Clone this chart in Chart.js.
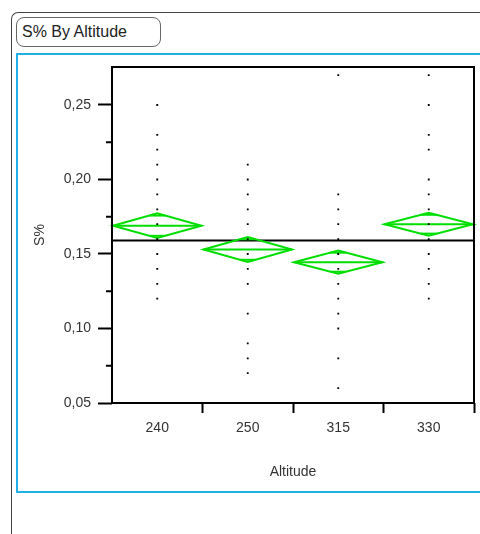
<!DOCTYPE html>
<html>
<head>
<meta charset="utf-8">
<title>S% By Altitude</title>
<script src="https://cdn.jsdelivr.net/npm/chart.js@4.4.1/dist/chart.umd.min.js"></script>
<style>
  html, body { margin: 0; padding: 0; background: #fff; width: 480px; height: 534px; overflow: hidden; }
  #frame { position: absolute; left: 11px; top: 12px; width: 500px; height: 560px;
           border-left: 1px solid #444; border-top: 1px solid #444; border-top-left-radius: 7px; }
  #titleBox { position: absolute; left: 16px; top: 17px; width: 145px; height: 30px; box-sizing: border-box;
              border: 1px solid #666; border-radius: 8px; padding-left: 5px;
              font: 16px "Liberation Sans", Arial, sans-serif; line-height: 28px; color: #222; }
  #panel { position: absolute; left: 16px; top: 53px; width: 480px; height: 440px; box-sizing: border-box;
           border: 2px solid #1eb0e6; }
  canvas { position: absolute; left: 0; top: 0; }
</style>
</head>
<body>
<div id="frame"></div>
<div id="titleBox">S% By Altitude</div>
<div id="panel"></div>
<canvas id="chart" width="480" height="534"></canvas>
<script>
// Altitude groups
const categories = ['240', '250', '315', '330'];

// S% observations per altitude group
const alt240 = [0.25, 0.23, 0.22, 0.21, 0.20, 0.19, 0.18, 0.17, 0.16, 0.15, 0.14, 0.13, 0.12];
const alt250 = [0.21, 0.20, 0.19, 0.18, 0.17, 0.16, 0.15, 0.14, 0.13, 0.11, 0.09, 0.08, 0.07];
const alt315 = [0.27, 0.19, 0.18, 0.17, 0.16, 0.15, 0.14, 0.13, 0.12, 0.11, 0.10, 0.08, 0.06];
const alt330 = [0.27, 0.25, 0.23, 0.22, 0.20, 0.19, 0.18, 0.17, 0.16, 0.15, 0.14, 0.13, 0.12];

// Group means and 95% confidence half-widths (means diamonds)
const groupMeans = [0.169, 0.153, 0.1445, 0.170];
const ciHalfWidths = [0.0083, 0.0084, 0.0078, 0.0077];

// Grand mean across all observations
const grandMean = 0.159;

// Y axis ticks
const yMajorTicks = [0.05, 0.10, 0.15, 0.20, 0.25];
const yMinorTicks = [0.075, 0.125, 0.175, 0.225];

const groups = [alt240, alt250, alt315, alt330];
const points = [];
groups.forEach((vals, i) => vals.forEach(v => points.push({ x: categories[i], y: v })));

const GREEN = 'rgb(0,222,0)';
const FONT = '"Liberation Sans", Arial, sans-serif';
const TEXT = '#333';

const onewayPlugin = {
  id: 'oneway',
  beforeDatasetsDraw(chart) {
    const { ctx, chartArea, scales: { x, y } } = chart;
    const band = (x.getPixelForValue(1) - x.getPixelForValue(0));
    ctx.save();
    // grand mean line
    ctx.strokeStyle = '#000';
    ctx.lineWidth = 2;
    ctx.beginPath();
    const gy = y.getPixelForValue(grandMean);
    ctx.moveTo(chartArea.left, gy);
    ctx.lineTo(chartArea.right, gy);
    ctx.stroke();
    // means diamonds
    ctx.strokeStyle = GREEN;
    ctx.lineWidth = 2;
    groupMeans.forEach((m, i) => {
      const cx = x.getPixelForValue(i);
      const l = cx - band / 2 + 1, r = cx + band / 2 - 1;
      const yc = y.getPixelForValue(m);
      const yt = y.getPixelForValue(m + ciHalfWidths[i]);
      const yb = y.getPixelForValue(m - ciHalfWidths[i]);
      ctx.beginPath();
      ctx.moveTo(l, yc); ctx.lineTo(cx, yt); ctx.lineTo(r, yc); ctx.lineTo(cx, yb); ctx.closePath();
      ctx.stroke();
      ctx.beginPath();
      ctx.moveTo(l, yc); ctx.lineTo(r, yc);
      ctx.stroke();
      // overlap marks
      const k = 0.82;
      [m + ciHalfWidths[i] * k, m - ciHalfWidths[i] * k].forEach(v => {
        const py = y.getPixelForValue(v);
        const hw = (1 - k) * (r - l) / 2;
        ctx.beginPath();
        ctx.moveTo(cx - hw, py); ctx.lineTo(cx + hw, py);
        ctx.stroke();
      });
    });
    ctx.restore();
  },
  afterDraw(chart) {
    const { ctx, chartArea, scales: { y } } = chart;
    ctx.save();
    ctx.strokeStyle = '#000';
    ctx.lineWidth = 2;
    ctx.strokeRect(chartArea.left, chartArea.top, chartArea.right - chartArea.left, chartArea.bottom - chartArea.top);
    // minor ticks on the y axis
    yMinorTicks.forEach(v => {
      const py = y.getPixelForValue(v);
      ctx.beginPath();
      ctx.moveTo(chartArea.left - 6, py);
      ctx.lineTo(chartArea.left, py);
      ctx.stroke();
    });
    ctx.restore();
  }
};

new Chart(document.getElementById('chart'), {
  type: 'scatter',
  data: {
    labels: categories,
    datasets: [{
      data: points,
      pointStyle: 'rect',
      pointRadius: 1.3,
      pointHoverRadius: 1.3,
      backgroundColor: '#000',
      borderColor: '#000',
      borderWidth: 0
    }]
  },
  options: {
    responsive: false,
    animation: false,
    events: [],
    layout: { padding: { left: 0, right: 6, top: 67, bottom: 41 } },
    plugins: { legend: { display: false }, tooltip: { enabled: false } },
    scales: {
      x: {
        type: 'category',
        labels: categories,
        offset: true,
        border: { display: false },
        grid: {
          offset: true,
          drawOnChartArea: false,
          tickLength: 10,
          tickWidth: 2,
          tickColor: ctx => ctx.index === 0 ? 'rgba(0,0,0,0)' : '#000'
        },
        ticks: { color: TEXT, font: { family: FONT, size: 14 }, padding: 7, maxRotation: 0 },
        title: { display: true, text: 'Altitude', color: TEXT, font: { family: FONT, size: 14 }, padding: { top: 0, bottom: 12 } },
        afterFit(scale) { scale.height = 90; }
      },
      y: {
        type: 'linear',
        min: 0.05,
        max: 0.2755,
        border: { display: false },
        afterBuildTicks(scale) { scale.ticks = yMajorTicks.map(v => ({ value: v })); },
        grid: { drawOnChartArea: false, tickLength: 14, tickWidth: 2, tickColor: '#000' },
        ticks: {
          color: TEXT, font: { family: FONT, size: 14 }, padding: 7,
          callback: v => v.toFixed(2).replace('.', ',')
        },
        title: { display: true, text: 'S%', color: TEXT, font: { family: FONT, size: 14 }, padding: { top: 32, bottom: 0 } },
        afterFit(scale) { scale.width = 112; }
      }
    }
  },
  plugins: [onewayPlugin]
});
</script>
</body>
</html>
